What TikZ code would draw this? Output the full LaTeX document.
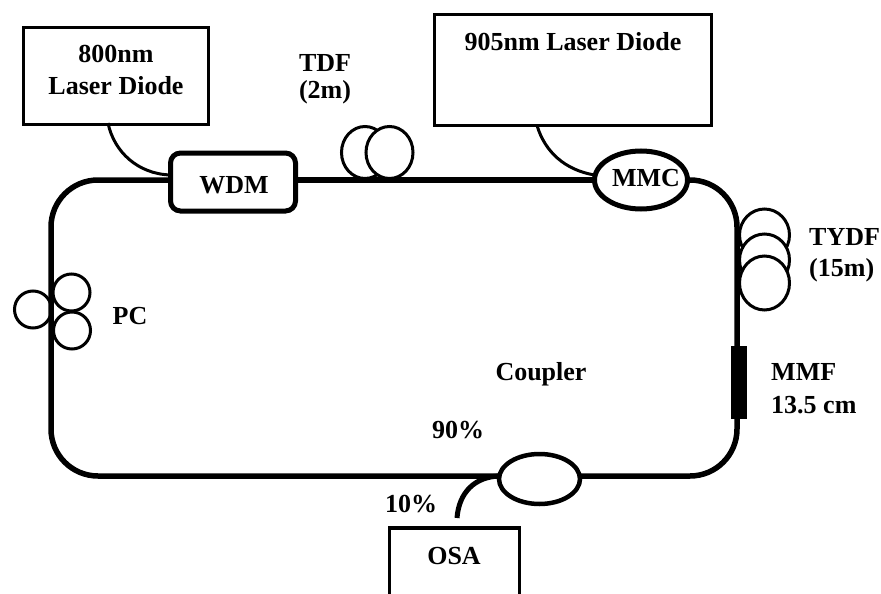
\documentclass[tikz,border=0pt]{standalone}
\usepackage{fontspec}
\setmainfont{Liberation Serif}
\usetikzlibrary{positioning,shapes.geometric}

\begin{document}
\begin{tikzpicture}[x=1pt, y=-1pt,
  lbl/.style={font=\fontsize{26}{30}\selectfont\bfseries, inner sep=0pt},
  src/.style={draw, line width=3.5pt, inner sep=0pt, outer sep=0pt, fill=white},
  part/.style={draw, line width=5pt, inner sep=0pt, outer sep=0pt, fill=white},
  coil/.style={draw, ellipse, line width=3pt, inner sep=0pt, outer sep=0pt, fill=white},
  fibre/.style={line width=5.5pt, rounded corners=47pt},
  pig/.style={line width=3pt}]
\useasboundingbox (0,0) rectangle (881,594);
\node[src, minimum width=185pt, minimum height=97pt] (ld800) at (116,76) {};
\node[src, minimum width=277pt, minimum height=111pt] (ld905) at (573,70) {};
\node[src, minimum width=130pt, minimum height=82pt] (osa) at (454.5,569) {};
\node[part, rounded corners=10pt, minimum width=125pt, minimum height=58pt] (wdm) at (233,182) {};
\node[part, ellipse, minimum width=93pt, minimum height=58pt] (mmc) at (641,180) {};
\node[part, ellipse, line width=4.5pt, minimum width=81pt, minimum height=50pt] (cpl) at (539.5,479) {};
\node[coil, minimum width=47pt, minimum height=52pt] (tdfa) at (365,152.5) {};
\node[coil, minimum width=47pt, minimum height=52pt] (tdfb) at (389.5,152.5) {};
\node[coil, minimum width=50pt, minimum height=52pt] (tydfa) at (764.5,235) {};
\node[coil, minimum width=50pt, minimum height=52pt] (tydfb) at (764.5,260) {};
\node[coil, minimum width=50pt, minimum height=54pt] (tydfc) at (764.5,283) {};
\node[coil, minimum width=37pt, minimum height=37pt] (pca) at (33,309.5) {};
\node[coil, minimum width=37pt, minimum height=37pt] (pcb) at (71.5,292.5) {};
\node[coil, minimum width=37pt, minimum height=37pt] (pcc) at (72,330.5) {};
\coordinate (tl) at (51,180);
\coordinate (bl) at (51,476);
\coordinate (br) at (737,476);
\coordinate (tr) at (737,180);
\coordinate (osaend) at (457,518);
\draw[fibre] (wdm.west |- tl) -- (tl) -- (bl) -- (cpl.west |- bl);
\draw[fibre] (cpl.east |- br) -- (br) -- (tr) -- (mmc.east |- tr);
\draw[fibre] (wdm.east |- tl) -- (mmc.west |- tr);
\draw[line width=5pt] (osaend) .. controls (459,492) and (475,477) .. (cpl.west |- bl);
\draw[pig] (108,123) .. controls (114,152) and (138,174) .. (wdm.west |- 0,175);
\draw[pig] (ld905.south -| 537,0) .. controls (545,152) and (565,170) .. (mmc.west |- 0,175);
\node[fill=black, inner sep=0pt, minimum width=16pt, minimum height=73pt] (mmf) at (739,382.5) {};
\node[lbl] (t800) at (116,54) {800nm};
\node[lbl, below=13pt of t800] (tld) {Laser Diode};
\node[lbl] (t905) at (573,42) {905nm Laser Diode};
\node[lbl] (ttdf) at (325,63) {TDF};
\node[lbl, below=9pt of ttdf] (t2m) {(2m)};
\node[lbl] (twdm) at (234,185) {WDM};
\node[lbl] (tmmc) at (646,178) {MMC};
\node[lbl, anchor=west] (ttydf) at (809,237) {TYDF};
\node[lbl, anchor=west] (t15m) at (809,270) {(15m)};
\node[lbl] (tpc) at (130,316) {PC};
\node[lbl] (tcpl) at (541,374) {Coupler};
\node[lbl, anchor=west] (tmmf) at (771,372) {MMF};
\node[lbl, anchor=west] (t135) at (771,405) {13.5 cm};
\node[lbl] (t90) at (458,430) {90\%};
\node[lbl] (t10) at (411,504) {10\%};
\node[lbl] (tosa) at (454,556) {OSA};
\end{tikzpicture}
\end{document}
